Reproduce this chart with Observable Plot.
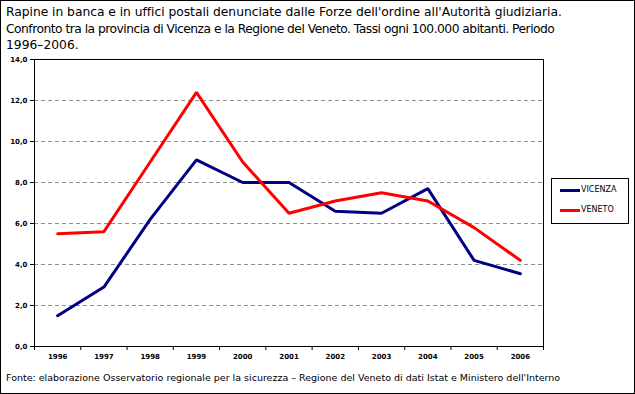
<!DOCTYPE html>
<html><head><meta charset="utf-8">
<script src="https://cdn.jsdelivr.net/npm/d3@7"></script>
<script src="https://cdn.jsdelivr.net/npm/@observablehq/plot@0.6"></script>
<style>
body{margin:0;background:#fff;}
#wrap{position:relative;width:635px;height:394px;box-sizing:border-box;border:1px solid #000;font-family:"DejaVu Sans",sans-serif;overflow:hidden;}
#title{position:absolute;left:5px;top:3px;font-size:12.3px;line-height:16.5px;color:#000;white-space:nowrap;}
#title span{display:block;}
#chart{position:absolute;left:0;top:47px;}
#legend{position:absolute;left:550px;top:177px;width:78px;height:46px;box-sizing:border-box;border:1px solid #000;font-size:8px;}
.item{position:absolute;left:8px;height:10px;}
.sw{position:absolute;left:0;top:3px;width:20px;height:3px;}
.lb{position:absolute;left:21px;top:-1px;white-space:nowrap;}
#caption{position:absolute;left:5px;top:371px;font-size:9.5px;white-space:nowrap;}
</style></head>
<body>
<div id="wrap">
<div id="title"><span style="letter-spacing:-0.03px">Rapine in banca e in uffici postali denunciate dalle Forze dell'ordine all'Autorità giudiziaria.</span><span style="letter-spacing:-0.52px">Confronto tra la provincia di Vicenza e la Regione del Veneto. Tassi ogni 100.000 abitanti. Periodo</span><span>1996–2006.</span></div>
<div id="chart"></div>
<div id="legend"></div>
<div id="caption">Fonte: elaborazione Osservatorio regionale per la sicurezza – Regione del Veneto di dati Istat e Ministero dell'Interno</div>
</div>
<script>
const years = [1996, 1997, 1998, 1999, 2000, 2001, 2002, 2003, 2004, 2005, 2006];
const vicenza = [1.5, 2.9, 6.2, 9.1, 8.0, 8.0, 6.6, 6.5, 7.7, 4.2, 3.55];
const veneto = [5.5, 5.6, 9.0, 12.4, 9.0, 6.5, 7.1, 7.5, 7.1, 5.8, 4.2];
const seriesNames = ["VICENZA", "VENETO"];
const seriesColors = ["#000080", "#ff0000"];
const yTicks = [0, 2, 4, 6, 8, 10, 12, 14];
const gridTicks = [2, 4, 6, 8, 10, 12];

const rows = [];
years.forEach((y, i) => {
  rows.push({year: y, value: vicenza[i], serie: seriesNames[0]});
  rows.push({year: y, value: veneto[i], serie: seriesNames[1]});
});
const boundaries = years.map(y => y - 0.5).concat([years[years.length - 1] + 0.5]);

const chart = Plot.plot({
  width: 633,
  height: 320,
  marginLeft: 33,
  marginRight: 91,
  marginTop: 11,
  marginBottom: 22,
  style: {fontFamily: "DejaVu Sans, sans-serif", background: "transparent", overflow: "visible"},
  x: {type: "linear", domain: [years[0] - 0.5, years[years.length - 1] + 0.5]},
  y: {domain: [0, 14]},
  color: {domain: seriesNames, range: seriesColors},
  marks: [
    Plot.ruleY(gridTicks, {stroke: "#909090", strokeDasharray: "4,3", strokeWidth: 1}),
    Plot.frame({stroke: "#000", strokeWidth: 1}),
    Plot.axisY(yTicks, {tickSize: 4, tickPadding: 3, tickFormat: d => d.toFixed(1).replace(".", ","), fontSize: 7, fontWeight: "bold", label: null, stroke: "#000"}),
    Plot.axisX(boundaries, {tickSize: 4, tickFormat: () => "", label: null, stroke: "#000"}),
    Plot.axisX(years, {tickSize: 0, tickPadding: 8, tickFormat: d => String(d), fontSize: 7, fontWeight: "bold", label: null}),
    Plot.lineY(rows, {x: "year", y: "value", stroke: "serie", strokeWidth: 3, strokeLinejoin: "miter"})
  ]
});
document.getElementById("chart").appendChild(chart);

const legend = document.getElementById("legend");
seriesNames.forEach((n, i) => {
  const it = document.createElement("div");
  it.className = "item";
  it.style.top = (7 + i * 20) + "px";
  it.innerHTML = `<div class="sw" style="background:${seriesColors[i]}"></div><div class="lb">${n}</div>`;
  legend.appendChild(it);
});
</script>
</body></html>
